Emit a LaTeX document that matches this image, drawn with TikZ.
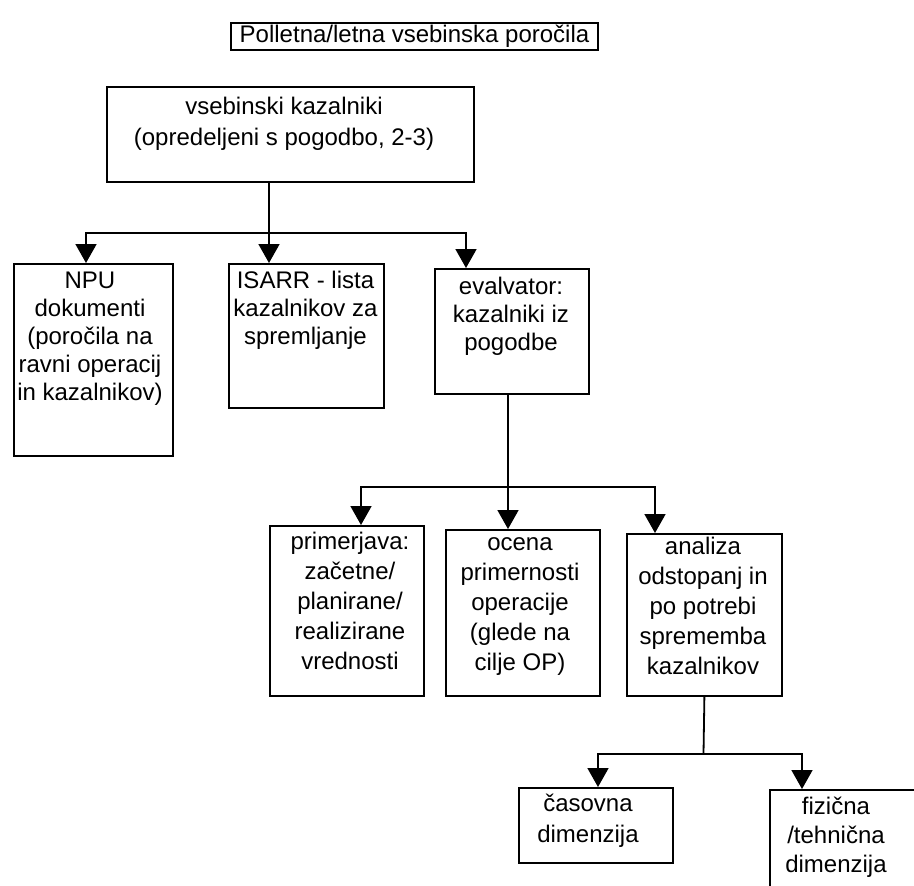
\documentclass[tikz,border=0pt]{standalone}
\usepackage{fontspec}
\setmainfont{Liberation Sans}
\usetikzlibrary{arrows.meta}
\tikzset{
  box/.style={draw=black,line width=1.8pt,anchor=north west,inner sep=0pt},
  txt/.style={align=center,inner sep=0pt,anchor=north,font=\fontsize{24}{#1}\selectfont},
  txt/.default=28,
  headbox/.style={draw=black,line width=1.8pt,inner sep=0pt,minimum width=367,minimum height=27,font=\fontsize{24}{28}\selectfont},
  link/.style={line width=1.8pt},
  arr/.style={line width=1.8pt,-{Triangle[width=21pt,length=19pt]}},
}

\begin{document}
\begin{tikzpicture}[x=1pt,y=-1pt]
\useasboundingbox (0,0) rectangle (914,886);
\clip (0,0) rectangle (914,886);
% title
\node[headbox] (head) at (414.5,36.5) {Polletna/letna vsebinska poročila};
% first level
\node[box,minimum width=367,minimum height=95] (kaz) at (106,86) {};
\node[txt=31] (kazT) at (284,92.8) {\strut vsebinski kazalniki\\(opredeljeni s pogodbo, 2-3)};
\node[box,minimum width=159,minimum height=192] (npu) at (13,263) {};
\node[txt] (npuT) at (90,268.4) {\strut NPU\\dokumenti\\(poročila na\\ravni operacij\\in kazalnikov)};
\node[box,minimum width=155,minimum height=144] (isarr) at (228,263) {};
\node[txt] (isarrT) at (305.5,268.4) {\strut ISARR - lista\\kazalnikov za\\spremljanje};
\node[box,minimum width=154,minimum height=125] (eval) at (434,268) {};
\node[txt] (evalT) at (511,274.9) {\strut evalvator:\\kazalniki iz\\pogodbe};
% second level
\node[box,minimum width=154,minimum height=170] (prim) at (269,525) {};
\node[txt=30] (primT) at (350,528.5) {\strut primerjava:\\začetne/\\planirane/\\realizirane\\vrednosti};
\node[box,minimum width=154,minimum height=166] (ocena) at (445,529) {};
\node[txt=30] (ocenaT) at (520,529.5) {\strut ocena\\primernosti\\operacije\\(glede na\\cilje OP)};
\node[box,minimum width=155,minimum height=162] (anal) at (626,533) {};
\node[txt=30] (analT) at (703,533.5) {\strut analiza\\odstopanj in\\po potrebi\\sprememba\\kazalnikov};
% third level
\node[box,minimum width=154,minimum height=75] (cas) at (518,787) {};
\node[txt=31] (casT) at (588,789.9) {\strut časovna\\dimenzija};
\node[box,minimum width=200,minimum height=150] (fiz) at (769,789) {};
\node[txt=29] (fizT) at (836,793.7) {\strut fizična\\/tehnična\\dimenzija};
% connectors
\coordinate (busA) at (269,233);
\coordinate (npuIn) at (86,263);
\coordinate (isarrIn) at (269,263);
\coordinate (evalIn) at (466,268);
\draw[link] (busA |- kaz.south) -- (busA);
\draw[arr] (busA) -| (npuIn);
\draw[arr] (busA) -- (isarrIn);
\draw[arr] (busA) -| (evalIn);
\coordinate (busB) at (508,487);
\coordinate (primIn) at (361,525);
\coordinate (ocenaIn) at (508,529);
\coordinate (analIn) at (655,533);
\draw[link] (busB |- eval.south) -- (busB);
\draw[arr] (busB) -| (primIn);
\draw[arr] (busB) -- (ocenaIn);
\draw[arr] (busB) -| (analIn);
\coordinate (busC) at (703.5,754);
\coordinate (casIn) at (598,787);
\coordinate (fizIn) at (802,789);
\draw[link] (anal.south) -- (busC);
\draw[arr] (busC) -| (casIn);
\draw[arr] (busC) -| (fizIn);
\end{tikzpicture}
\end{document}
